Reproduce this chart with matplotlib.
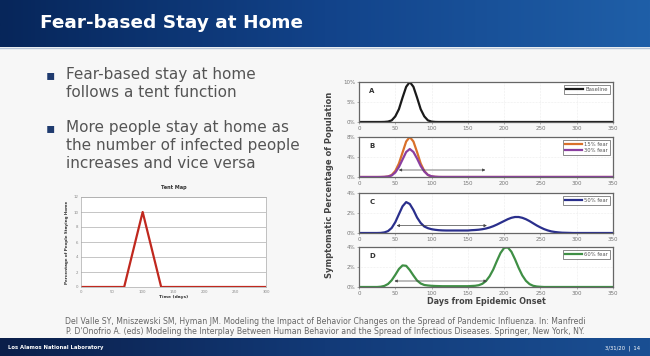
import matplotlib
matplotlib.use("Agg")
import matplotlib.pyplot as plt
import numpy as np

# --- data ---
title = "Fear-based Stay at Home"
bullets = ["Fear-based stay at home\nfollows a tent function",
           "More people stay at home as\nthe number of infected people\nincreases and vice versa"]
citation = ["Del Valle SY, Mniszewski SM, Hyman JM. Modeling the Impact of Behavior Changes on the Spread of Pandemic Influenza. In: Manfredi",
            "P. D'Onofrio A. (eds) Modeling the Interplay Between Human Behavior and the Spread of Infectious Diseases. Springer, New York, NY."]

# tent map (percentage staying home vs time)
tent_days = [0, 70, 100, 130, 300]
tent_pct = [0, 0, 10, 0, 0]

# epidemic curves, every 5 days from 0 to 350
days = list(range(0, 355, 5))
baseline = [0, 0, 0, 0, 0, 0, 0, 0.02, 0.1, 0.4, 1.4, 3.2, 6.1, 8.8, 10.0, 8.8, 6.1, 3.2, 1.4, 0.4,
            0.1, 0.02] + [0] * 49
fear15 = [0, 0, 0, 0, 0, 0, 0, 0.02, 0.1, 0.4, 1.2, 2.7, 4.9, 7.1, 8.0, 7.1, 5.0, 2.7, 1.2, 0.4,
          0.1, 0.03] + [0] * 49
fear30 = [0, 0, 0, 0, 0, 0, 0.01, 0.03, 0.1, 0.3, 0.9, 2.0, 3.5, 5.0, 5.6, 5.0, 3.7, 2.2, 1.1, 0.4,
          0.15, 0.05, 0.02] + [0.01] * 48
fear50 = [0, 0, 0, 0, 0, 0, 0.01, 0.06, 0.19, 0.5, 1.08, 1.88, 2.67, 3.09, 2.9, 2.3, 1.55, 1.0, 0.65, 0.48,
          0.38, 0.32, 0.28, 0.26, 0.25, 0.25, 0.25, 0.25, 0.25, 0.25, 0.25, 0.28, 0.3, 0.33, 0.38, 0.45,
          0.55, 0.68, 0.84, 1.02, 1.2, 1.38, 1.52, 1.6, 1.6, 1.52, 1.38, 1.19, 0.97, 0.75, 0.56, 0.39,
          0.26, 0.16, 0.1, 0.06, 0.03, 0.02, 0.01] + [0] * 12
fear60 = [0, 0, 0, 0, 0, 0, 0.03, 0.11, 0.3, 0.67, 1.21, 1.8, 2.16, 2.12, 1.69, 1.15, 0.65, 0.35, 0.2, 0.15,
          0.12, 0.1, 0.09, 0.08, 0.08, 0.08, 0.08, 0.08, 0.08, 0.08, 0.08, 0.1, 0.12, 0.18, 0.32, 0.6,
          1.08, 1.75, 2.6, 3.4, 3.91, 3.96, 3.53, 2.77, 1.91, 1.16, 0.62, 0.29, 0.12, 0.05, 0.02] + [0] * 20

panels = [
    ("A", [(baseline, "Baseline", "#1a1a1a")], [0, 5, 10], (51, 178, None)),
    ("B", [(fear15, "15% fear", "#d9702a"), (fear30, "30% fear", "#8a3fa0")], [0, 4, 8], (51, 178, 1.4)),
    ("C", [(fear50, "50% fear", "#2a2f8c")], [0, 2, 4], (48, 180, 0.74)),
    ("D", [(fear60, "60% fear", "#3f8f45")], [0, 2, 4], (45, 180, 0.6)),
]
panel_rows = [(82, 122), (137, 177), (193, 233), (247, 287)]

W, H = 650, 356
fig = plt.figure(figsize=(6.5, 3.56), dpi=100)
fig.patch.set_facecolor("#f7f7f7")


def box(x0, y_top, x1, y_bot):
    # pixel box (top-left origin) -> figure fraction rect
    return [x0 / W, 1 - y_bot / H, (x1 - x0) / W, (y_bot - y_top) / H]


# title bar with blue gradient
bar = fig.add_axes(box(0, 0, 650, 47))
grad = np.linspace(0, 1, 256).reshape(1, -1)
bar.imshow(grad, aspect="auto", extent=[0, 1, 0, 1],
           cmap=matplotlib.colors.LinearSegmentedColormap.from_list("t", ["#07265a", "#12438a", "#1f5fa8"]))
bar.axis("off")
fig.text(40 / W, 1 - 23 / H, title, color="white", fontsize=13.3, fontweight="bold",
         family="DejaVu Sans", va="center", ha="left")
fig.add_artist(plt.Line2D([0, 1], [1 - 48 / H] * 2, color="#b8c6d8", lw=1))

# bottom bar
foot = fig.add_axes(box(0, 338, 650, 356))
foot.imshow(grad, aspect="auto", extent=[0, 1, 0, 1],
            cmap=matplotlib.colors.LinearSegmentedColormap.from_list("f", ["#0b1f4a", "#123a78", "#1a4f93"]))
foot.axis("off")
fig.text(8 / W, 1 - 348 / H, "Los Alamos National Laboratory", color="white", fontsize=3.8,
         fontweight="bold", va="center")
fig.text(640 / W, 1 - 348 / H, "3/31/20  |  14", color="white", fontsize=3.8, va="center", ha="right")

# bullets
ys = [75, 128]
for y, txt in zip(ys, bullets):
    fig.text(46 / W, 1 - y / H, "\u25aa", color="#1f3b6f", fontsize=10, va="center", ha="left")
    fig.text(66 / W, 1 - (y - 8) / H, txt, color="#555555", fontsize=11, va="top", ha="left",
             linespacing=1.25)

# citation
fig.text(325 / W, 1 - 322 / H, citation[0], color="#666666", fontsize=5.6, ha="center", va="center")
fig.text(325 / W, 1 - 331 / H, citation[1], color="#666666", fontsize=5.6, ha="center", va="center")

# tent map
tx = fig.add_axes(box(81, 197, 266, 287))
tx.set_facecolor("white")
tx.plot(tent_days, tent_pct, color="#c0281e", lw=1.6)
tx.set_xlim(0, 300)
tx.set_ylim(0, 12)
tx.set_xticks(range(0, 301, 50))
tx.set_yticks(range(0, 13, 2))
tx.grid(axis="y", color="#bbbbbb", lw=0.6)
tx.tick_params(labelsize=2.8, length=0, colors="#888888", pad=2)
for s in tx.spines.values():
    s.set_color("#aaaaaa")
    s.set_linewidth(0.5)
tx.set_title("Tent Map", fontsize=3.6, fontweight="bold", color="#333333", pad=6)
tx.set_xlabel("Time (days)", fontsize=3.2, fontweight="bold", color="#333333", labelpad=1)
tx.set_ylabel("Percentage of People Staying Home", fontsize=3, fontweight="bold", color="#333333", labelpad=3)

# epidemic panels
for (letter, series, yt, arrow), (top, bot) in zip(panels, panel_rows):
    ax = fig.add_axes(box(359, top, 613, bot))
    ax.set_facecolor("white")
    for vals, lab, col in series:
        ax.plot(days, vals, color=col, lw=1.6, label=lab)
    ax.set_xlim(0, 350)
    ax.set_ylim(0, yt[-1])
    ax.set_xticks(range(0, 351, 50))
    ax.set_yticks(yt)
    ax.set_yticklabels([f"{v}%" for v in yt])
    ax.grid(color="#dddddd", lw=0.4, ls=":")
    ax.tick_params(labelsize=4, length=1.5, width=0.4, colors="#777777", pad=1.2)
    for s in ax.spines.values():
        s.set_color("#666666")
        s.set_linewidth(0.9)
    ax.text(0.04, 0.78, letter, transform=ax.transAxes, fontsize=5, fontweight="bold",
            color="#333333", va="center")
    leg = ax.legend(loc="upper right", fontsize=3.8, handlelength=3.2, frameon=True, fancybox=False,
                    borderpad=0.4, labelspacing=0.25, handletextpad=0.5, borderaxespad=0.5)
    leg.get_frame().set_edgecolor("#555555")
    leg.get_frame().set_linewidth(0.6)
    for t in leg.get_texts():
        t.set_color("#555555")
    a0, a1, ay = arrow
    if ay is not None:
        ax.annotate("", xy=(a1, ay), xytext=(a0, ay),
                    arrowprops=dict(arrowstyle="<|-|>", color="#444444", lw=0.5, mutation_scale=4))

fig.text(486 / W, 1 - 302 / H, "Days from Epidemic Onset", fontsize=5.8, fontweight="bold",
         color="#444444", ha="center", va="center")
fig.text(330 / W, 1 - 185 / H, "Symptomatic Percentage of Population", fontsize=6, fontweight="bold",
         color="#444444", ha="center", va="center", rotation=90)

fig.savefig("out.png", dpi=100, facecolor=fig.get_facecolor())
